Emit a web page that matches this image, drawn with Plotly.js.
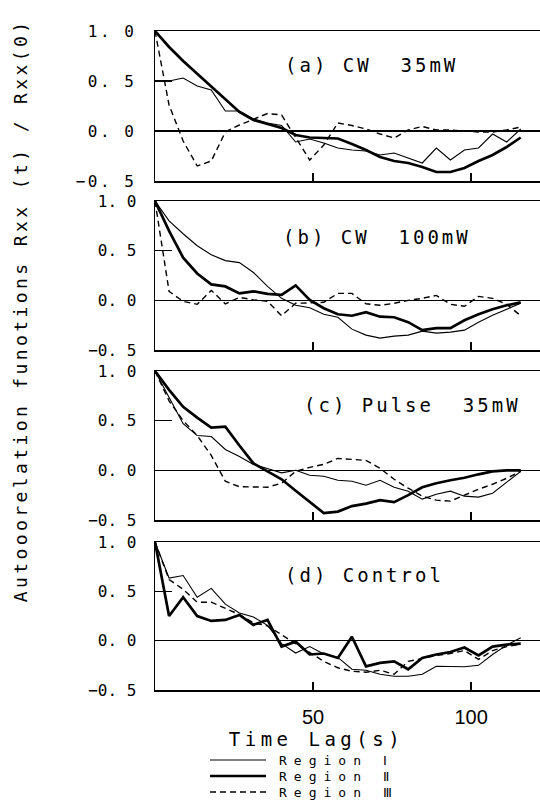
<!DOCTYPE html>
<html><head><meta charset="utf-8">
<script src="https://cdn.plot.ly/plotly-3.0.1.min.js"></script>
<style>
body{margin:0;background:#fff}
#chart{width:540px;height:804px}
.annotation-text{letter-spacing:3px}
.annotation[data-index="4"] .annotation-text{letter-spacing:3.4px}
.annotation[data-index="5"] .annotation-text{letter-spacing:4.5px}
.annotation[data-index="6"] .annotation-text,
.annotation[data-index="7"] .annotation-text,
.annotation[data-index="8"] .annotation-text{letter-spacing:7px}
.ytick text{letter-spacing:2.5px}
</style>
</head><body>
<div id="chart"></div>
<script>
// Time lag (s)
const timeLag = [0, 4.45, 8.9, 13.35, 17.8, 22.25, 26.7, 31.15, 35.6, 40.05, 44.5, 48.95, 53.4, 57.85, 62.3, 66.75, 71.2, 75.65, 80.1, 84.55, 89, 93.45, 97.9, 102.35, 106.8, 111.25, 115.7];

// (a) CW 35mW
const cw35_region1 = [null, 0.50, 0.53, 0.45, 0.41, 0.20, 0.20, 0.12, 0.08, 0.055, -0.11, -0.08, -0.12, -0.17, -0.19, -0.20, -0.24, -0.22, -0.27, -0.32, -0.17, -0.29, -0.19, -0.17, -0.03, -0.11, 0.02];
const cw35_region2 = [1.0, 0.84, 0.70, 0.57, 0.44, 0.31, 0.19, 0.11, 0.07, 0.03, -0.04, -0.065, -0.07, -0.075, -0.13, -0.19, -0.26, -0.30, -0.32, -0.36, -0.41, -0.41, -0.37, -0.30, -0.24, -0.16, -0.065];
const cw35_region3 = [1.0, 0.26, -0.10, -0.35, -0.30, -0.01, 0.06, 0.12, 0.175, 0.16, -0.06, -0.29, -0.14, 0.08, 0.055, 0.02, -0.03, -0.07, 0.01, 0.045, 0.01, 0.01, 0.0, -0.01, -0.01, 0.01, 0.04];

// (b) CW 100mW
const cw100_region1 = [1.0, 0.80, 0.67, 0.55, 0.46, 0.40, 0.38, 0.28, 0.14, 0.02, -0.05, -0.075, -0.14, -0.17, -0.29, -0.35, -0.38, -0.36, -0.35, -0.31, -0.33, -0.32, -0.30, -0.22, -0.15, -0.09, -0.03];
const cw100_region2 = [1.0, 0.70, 0.43, 0.27, 0.16, 0.14, 0.07, 0.09, 0.065, 0.055, 0.15, 0.005, -0.08, -0.14, -0.155, -0.12, -0.165, -0.17, -0.22, -0.30, -0.28, -0.28, -0.20, -0.14, -0.09, -0.05, -0.02];
const cw100_region3 = [1.0, 0.09, -0.01, -0.04, 0.10, -0.035, 0.03, 0.005, -0.01, -0.155, -0.03, -0.025, -0.02, 0.07, 0.07, -0.035, -0.05, -0.03, 0.0, 0.02, 0.05, -0.04, -0.06, 0.04, 0.02, -0.04, -0.155];

// (c) Pulse 35mW
const pulse_region1 = [1.0, 0.73, 0.47, 0.35, 0.34, 0.21, 0.14, 0.06, 0.02, -0.025, 0.0, -0.05, -0.06, -0.10, -0.11, -0.15, -0.10, -0.17, -0.21, -0.29, -0.24, -0.21, -0.26, -0.27, -0.23, -0.12, -0.01];
const pulse_region2 = [1.0, 0.81, 0.64, 0.53, 0.43, 0.44, 0.25, 0.07, -0.01, -0.09, -0.205, -0.32, -0.43, -0.415, -0.36, -0.335, -0.30, -0.32, -0.25, -0.17, -0.13, -0.10, -0.075, -0.04, -0.01, 0.0, 0.0];
const pulse_region3 = [1.0, 0.70, 0.50, 0.35, 0.15, -0.11, -0.165, -0.17, -0.17, -0.13, -0.01, 0.03, 0.06, 0.12, 0.11, 0.10, 0.02, -0.09, -0.18, -0.26, -0.30, -0.31, -0.25, -0.19, -0.14, -0.08, -0.01];

// (d) Control
const ctrl_region1 = [1.0, 0.635, 0.66, 0.44, 0.53, 0.37, 0.28, 0.24, 0.155, -0.03, -0.125, -0.06, -0.135, -0.17, -0.29, -0.30, -0.34, -0.36, -0.36, -0.34, -0.26, -0.265, -0.265, -0.25, -0.14, -0.045, 0.03];
const ctrl_region2 = [1.0, 0.25, 0.44, 0.25, 0.20, 0.21, 0.26, 0.16, 0.21, -0.06, -0.01, -0.14, -0.13, -0.175, 0.04, -0.26, -0.225, -0.21, -0.29, -0.175, -0.14, -0.115, -0.07, -0.15, -0.06, -0.04, -0.03];
const ctrl_region3 = [1.0, 0.62, 0.52, 0.39, 0.39, 0.33, 0.265, 0.18, 0.15, 0.06, -0.03, -0.115, -0.21, -0.275, -0.31, -0.32, -0.30, -0.34, -0.21, -0.18, -0.15, -0.13, -0.10, -0.19, -0.10, -0.06, -0.035];

const panelTitles = ['(a) CW  35mW', '(b) CW  100mW', '(c) Pulse  35mW', '(d) Control'];
const regionNames = ['Region \u2160', 'Region \u2161', 'Region \u2162'];
const yTickVals = [-0.5, 0, 0.5, 1.0];
const yTickText = ['\u22120. 5', '0. 0', '0. 5', '1. 0'];
const xTickVals = [50, 100];
const xTickText = ['50', '100'];

const panels = [
  [cw35_region1, cw35_region2, cw35_region3],
  [cw100_region1, cw100_region2, cw100_region3],
  [pulse_region1, pulse_region2, pulse_region3],
  [ctrl_region1, ctrl_region2, ctrl_region3]
];

const W = 540, H = 804;
const lineStyles = [
  {color: '#000', width: 1.1},
  {color: '#000', width: 2.7},
  {color: '#000', width: 1.4, dash: '6px,4px'}
];
// pixel rows of each panel (top, bottom)
const panelPx = [[31, 181], [201, 350], [371, 520], [542, 690]];
const titlePx = [[371, 65], [377, 237], [412, 405], [364, 575]];

const traces = [];
panels.forEach((series, p) => {
  const sfx = p === 0 ? '' : String(p + 1);
  series.forEach((ys, r) => {
    traces.push({
      type: 'scatter', mode: 'lines', x: timeLag, y: ys,
      xaxis: 'x' + sfx, yaxis: 'y' + sfx,
      line: lineStyles[r], showlegend: false, connectgaps: false,
      name: regionNames[r]
    });
  });
});

const layout = {
  width: W, height: H,
  margin: {l: 0, r: 0, t: 0, b: 0},
  paper_bgcolor: '#fff', plot_bgcolor: '#fff',
  showlegend: false,
  annotations: [], shapes: []
};

panelPx.forEach((px, p) => {
  const sfx = p === 0 ? '' : String(p + 1);
  layout['xaxis' + sfx] = {
    domain: [155 / W, 1], range: [0, 121.8],
    anchor: 'y' + sfx,
    showline: true, mirror: true, linecolor: '#000', linewidth: 1.5,
    ticks: 'inside', ticklen: 8, tickwidth: 1.2, tickcolor: '#000',
    tickvals: xTickVals, ticktext: xTickText,
    showticklabels: p === 3,
    tickfont: {family: 'Liberation Sans', size: 20, color: '#000'},
    ticklabelstandoff: 8,
    showgrid: false, zeroline: false, fixedrange: true
  };
  layout['yaxis' + sfx] = {
    domain: [1 - px[1] / H, 1 - px[0] / H], range: [-0.5, 1.0],
    anchor: 'x' + sfx,
    showline: true, mirror: false, linecolor: '#000', linewidth: 1.5,
    ticks: 'inside', ticklen: 17, tickwidth: 1.2, tickcolor: '#000',
    tickvals: yTickVals, ticktext: yTickText,
    tickfont: {family: 'DejaVu Sans Mono', size: 16, color: '#000'},
    ticklabelstandoff: 14,
    zeroline: true, zerolinecolor: '#000', zerolinewidth: 1.2,
    showgrid: false, fixedrange: true
  };
  layout.annotations.push({
    xref: 'paper', yref: 'paper',
    x: titlePx[p][0] / W, y: 1 - titlePx[p][1] / H,
    xanchor: 'center', yanchor: 'middle', showarrow: false,
    text: panelTitles[p],
    font: {family: 'DejaVu Sans Mono', size: 19, color: '#000'}
  });
});

// y-axis title (index 4)
layout.annotations.push({
  xref: 'paper', yref: 'paper', x: 20 / W, y: 1 - 311 / H,
  xanchor: 'center', yanchor: 'middle', showarrow: false, textangle: -90,
  text: 'Autooorelation funotions Rxx (t) / Rxx(0)',
  font: {family: 'DejaVu Sans Mono', size: 18, color: '#000'}
});
// x-axis title (index 5)
layout.annotations.push({
  xref: 'paper', yref: 'paper', x: 316 / W, y: 1 - 739 / H,
  xanchor: 'center', yanchor: 'middle', showarrow: false,
  text: 'Time Lag(s)',
  font: {family: 'DejaVu Sans Mono', size: 19, color: '#000'}
});
// legend (indices 6-8)
const legendRows = [760, 776, 792];
regionNames.forEach((nm, r) => {
  layout.shapes.push({
    type: 'line', xref: 'paper', yref: 'paper',
    x0: 210 / W, x1: 266 / W, y0: 1 - legendRows[r] / H, y1: 1 - legendRows[r] / H,
    line: lineStyles[r]
  });
  layout.annotations.push({
    xref: 'paper', yref: 'paper', x: 278 / W, y: 1 - legendRows[r] / H,
    xanchor: 'left', yanchor: 'middle', align: 'left', showarrow: false,
    borderpad: 0,
    text: nm,
    font: {family: 'DejaVu Sans Mono', size: 13, color: '#000'}
  });
});

Plotly.newPlot('chart', traces, layout, {staticPlot: true, displayModeBar: false});
</script>
</body></html>
